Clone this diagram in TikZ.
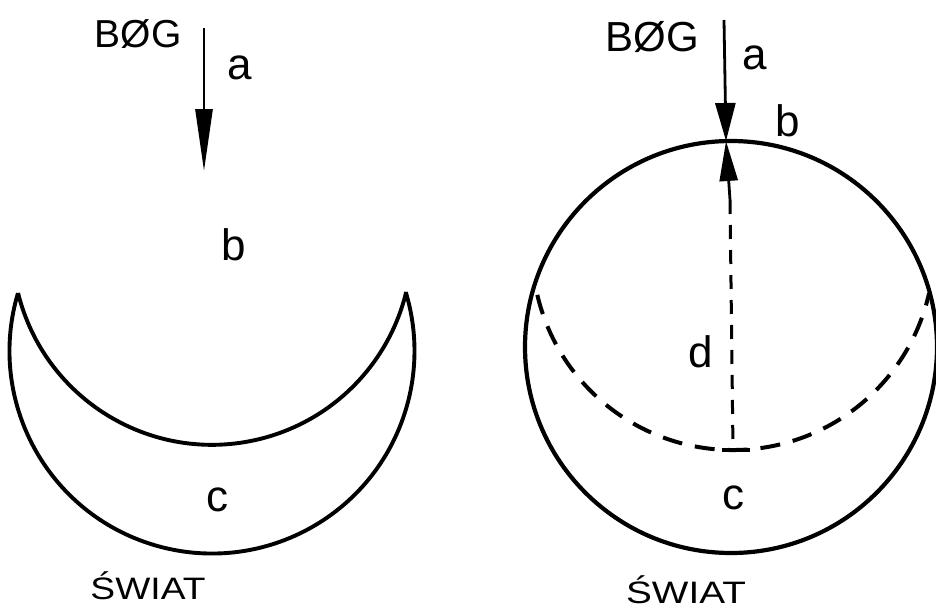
\documentclass[tikz,border=0pt]{standalone}
\usepackage{fontspec}
\setmainfont{Liberation Sans}
\usetikzlibrary{arrows.meta}
\begin{document}
\begin{tikzpicture}[x=1pt,y=-1pt,
  thickline/.style={line width=3.9pt},
  dashline/.style={line width=4pt, dash pattern=on 20pt off 13pt},
  vdash/.style={line width=3pt, dash pattern=on 14pt off 11pt},
  lbl/.style={inner sep=0pt, font=\fontsize{44}{44}\selectfont},
  capstyle/.style={inner sep=0pt, font=\fontsize{39}{39}\selectfont},
  world/.style={inner sep=0pt, font=\fontsize{31}{31}\selectfont}]
\useasboundingbox (0,0) rectangle (936,610);
% ---------- left figure ----------
\node[capstyle] (bog1) at (138,34) {BØG};
\node[lbl] (a1) at (240,68) {a};
\node[lbl] (b1) at (234,245) {b};
\node[lbl] (c1) at (217,500) {c};
\node[world] (swiat1) at (148,586) {\scalebox{1.2}[1]{ŚWIAT}};
\coordinate (a1s) at (204,28);
\coordinate (a1e) at (204,171);
\draw[line width=2.8pt, -{Triangle[length=62pt,width=17pt]}] (a1s) -- (a1e);
% crescent
\coordinate (oc) at (212,351);
\coordinate (ic) at (212,245);
\draw[thickline, line join=miter]
  (oc) ++(196.6:202.5) arc[start angle=196.6, end angle=-16.9, radius=202.5]
  (ic) ++(166.1:199.8) arc[start angle=166.1, end angle=13.6, radius=199.8];
% ---------- right figure ----------
\node[capstyle, font=\fontsize{42}{42}\selectfont] (bog2) at (652,37) {BØG};
\node[lbl] (a2) at (755,58) {a};
\node[lbl] (b2) at (788,121) {b};
\node[lbl] (d2) at (701,352) {d};
\node[lbl] (c2) at (733,498) {c};
\node[world] (swiat2) at (686,590) {\scalebox{1.25}[1]{ŚWIAT}};
\coordinate (cc) at (731,347);
\draw[line width=4.2pt] (cc) circle[radius=206];
\coordinate (top) at (726,141);
\coordinate (a2s) at (724,20);
\coordinate (mid) at (730,200);
\coordinate (bot) at (733,450);
\draw[line width=2.8pt, -{Triangle[length=38pt,width=20pt]}] (a2s) -- (top);
\draw[line width=2.8pt, -{Triangle[length=40pt,width=18pt]}] (mid) -- (top);
\draw[vdash] (mid) -- (bot);
\draw[line width=3.8pt] (722,450) -- (750,450);
\coordinate (dc) at (733,249);
\draw[dashline]
  (dc) ++(166.8:201) arc[start angle=166.8, end angle=12.7, radius=201];
\end{tikzpicture}
\end{document}
